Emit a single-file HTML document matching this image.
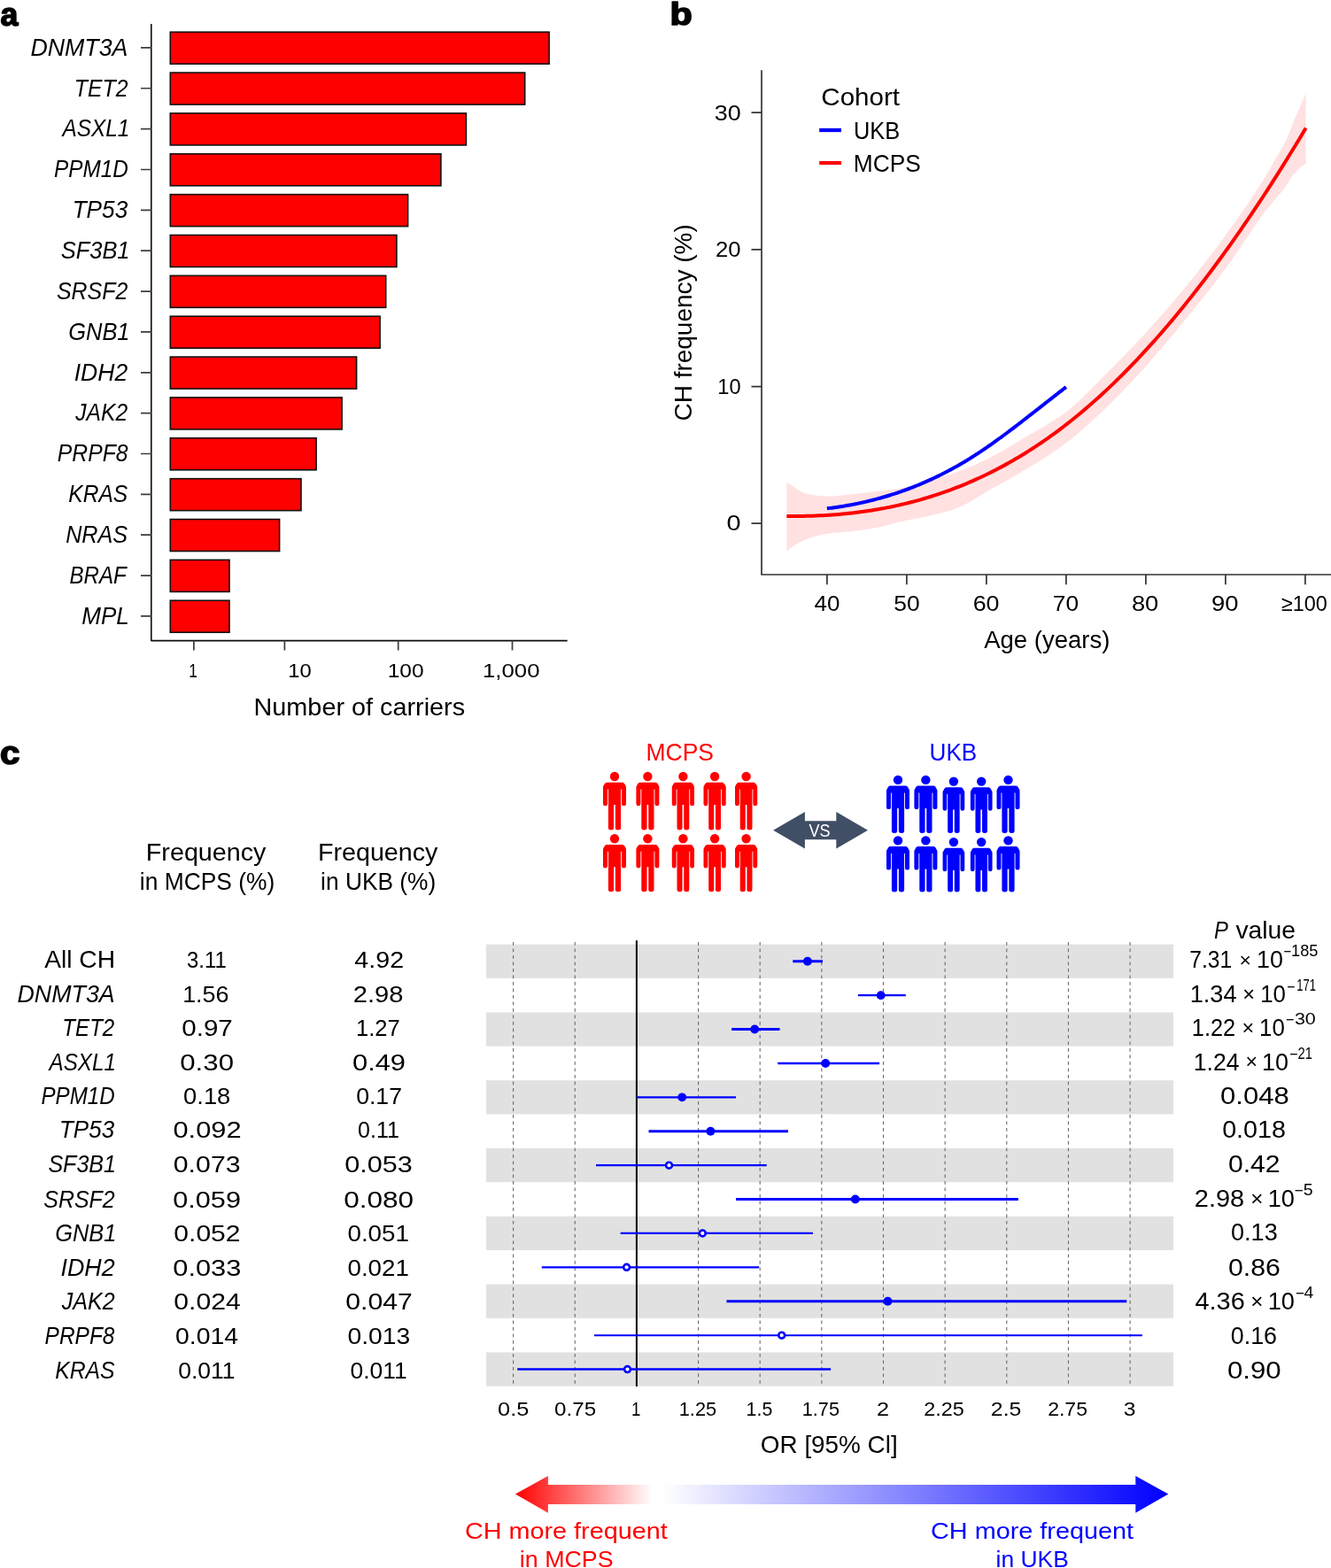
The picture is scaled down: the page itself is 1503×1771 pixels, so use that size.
<!DOCTYPE html>
<html><head><meta charset="utf-8"><title>Figure</title>
<style>
html,body{margin:0;padding:0;background:#fff;overflow:hidden;width:1503px;height:1771px;}
svg{display:block;}
text{font-family:"Liberation Sans",Arial,sans-serif;}
</style></head>
<body>
<svg width="1503" height="1771" viewBox="0 0 1503 1771">
<rect width="1503" height="1771" fill="#fff"/>
<text x="0.43" y="28.7" font-size="36.89" textLength="19.84" lengthAdjust="spacingAndGlyphs" font-weight="bold" fill="#000" stroke="#000" stroke-width="1.6" stroke-linejoin="round">a</text>
<text x="756.61" y="28.1" font-size="35.62" textLength="25.28" lengthAdjust="spacingAndGlyphs" font-weight="bold" fill="#000" stroke="#000" stroke-width="1.6" stroke-linejoin="round">b</text>
<text x="-0.01" y="862.8" font-size="36.53" textLength="22.36" lengthAdjust="spacingAndGlyphs" font-weight="bold" fill="#000" stroke="#000" stroke-width="1.6" stroke-linejoin="round">c</text>
<path d="M170.8 27 V723.6 H640.7" fill="none" stroke="#0d0d0d" stroke-width="1.6" stroke-linejoin="round"/>
<rect x="192.3" y="36.2" width="427.8" height="36" fill="#f00" stroke="#111" stroke-width="1.6"/>
<text x="34.4" y="62.75" font-size="27.64" textLength="110.05" lengthAdjust="spacingAndGlyphs" style="font-style:italic;" fill="#000" >DNMT3A</text>
<rect x="192.3" y="82.06" width="400.4" height="36" fill="#f00" stroke="#111" stroke-width="1.6"/>
<text x="83.87" y="108.61" font-size="27.64" textLength="60.7" lengthAdjust="spacingAndGlyphs" style="font-style:italic;" fill="#000" >TET2</text>
<rect x="192.3" y="127.92" width="334.1" height="36" fill="#f00" stroke="#111" stroke-width="1.6"/>
<text x="70.62" y="154.47" font-size="27.64" textLength="75.81" lengthAdjust="spacingAndGlyphs" style="font-style:italic;" fill="#000" >ASXL1</text>
<rect x="192.3" y="173.78" width="305.6" height="36" fill="#f00" stroke="#111" stroke-width="1.6"/>
<text x="60.97" y="200.33" font-size="27.64" textLength="83.83" lengthAdjust="spacingAndGlyphs" style="font-style:italic;" fill="#000" >PPM1D</text>
<rect x="192.3" y="219.64" width="268.3" height="36" fill="#f00" stroke="#111" stroke-width="1.6"/>
<text x="81.64" y="246.19" font-size="27.64" textLength="62.56" lengthAdjust="spacingAndGlyphs" style="font-style:italic;" fill="#000" >TP53</text>
<rect x="192.3" y="265.5" width="255.6" height="36" fill="#f00" stroke="#111" stroke-width="1.6"/>
<text x="68.7" y="292.05" font-size="27.64" textLength="77.86" lengthAdjust="spacingAndGlyphs" style="font-style:italic;" fill="#000" >SF3B1</text>
<rect x="192.3" y="311.36" width="243.4" height="36" fill="#f00" stroke="#111" stroke-width="1.6"/>
<text x="64.01" y="337.91" font-size="27.64" textLength="80.31" lengthAdjust="spacingAndGlyphs" style="font-style:italic;" fill="#000" >SRSF2</text>
<rect x="192.3" y="357.22" width="236.8" height="36" fill="#f00" stroke="#111" stroke-width="1.6"/>
<text x="77.23" y="383.77" font-size="27.64" textLength="69.29" lengthAdjust="spacingAndGlyphs" style="font-style:italic;" fill="#000" >GNB1</text>
<rect x="192.3" y="403.08" width="210.3" height="36" fill="#f00" stroke="#111" stroke-width="1.6"/>
<text x="83.74" y="429.63" font-size="27.64" textLength="60.52" lengthAdjust="spacingAndGlyphs" style="font-style:italic;" fill="#000" >IDH2</text>
<rect x="192.3" y="448.94" width="193.8" height="36" fill="#f00" stroke="#111" stroke-width="1.6"/>
<text x="85.26" y="475.49" font-size="27.64" textLength="58.95" lengthAdjust="spacingAndGlyphs" style="font-style:italic;" fill="#000" >JAK2</text>
<rect x="192.3" y="494.8" width="164.8" height="36" fill="#f00" stroke="#111" stroke-width="1.6"/>
<text x="64.86" y="521.35" font-size="27.64" textLength="79.68" lengthAdjust="spacingAndGlyphs" style="font-style:italic;" fill="#000" >PRPF8</text>
<rect x="192.3" y="540.66" width="147.7" height="36" fill="#f00" stroke="#111" stroke-width="1.6"/>
<text x="77.36" y="567.21" font-size="27.64" textLength="66.86" lengthAdjust="spacingAndGlyphs" style="font-style:italic;" fill="#000" >KRAS</text>
<rect x="192.3" y="586.52" width="123.3" height="36" fill="#f00" stroke="#111" stroke-width="1.6"/>
<text x="74.14" y="613.07" font-size="27.64" textLength="70.03" lengthAdjust="spacingAndGlyphs" style="font-style:italic;" fill="#000" >NRAS</text>
<rect x="192.3" y="632.38" width="66.7" height="36" fill="#f00" stroke="#111" stroke-width="1.6"/>
<text x="78.48" y="658.93" font-size="27.64" textLength="64.33" lengthAdjust="spacingAndGlyphs" style="font-style:italic;" fill="#000" >BRAF</text>
<rect x="192.3" y="678.24" width="66.7" height="36" fill="#f00" stroke="#111" stroke-width="1.6"/>
<text x="92.22" y="704.79" font-size="27.64" textLength="53.53" lengthAdjust="spacingAndGlyphs" style="font-style:italic;" fill="#000" >MPL</text>
<path d="M159 53.9 H170.8 M159 99.76 H170.8 M159 145.62 H170.8 M159 191.48 H170.8 M159 237.34 H170.8 M159 283.2 H170.8 M159 329.06 H170.8 M159 374.92 H170.8 M159 420.78 H170.8 M159 466.64 H170.8 M159 512.5 H170.8 M159 558.36 H170.8 M159 604.22 H170.8 M159 650.08 H170.8 M159 695.94 H170.8 M218.9 723.6 V734.5 M321.4 723.6 V734.5 M449.7 723.6 V734.5 M578.5 723.6 V734.5" fill="none" stroke="#3c3c3c" stroke-width="1.7"/>
<text x="213.2" y="765" font-size="22.9" textLength="9.64" lengthAdjust="spacingAndGlyphs" style="" fill="#000" >1</text>
<text x="325.22" y="765" font-size="22.9" textLength="26.43" lengthAdjust="spacingAndGlyphs" style="" fill="#000" >10</text>
<text x="437.66" y="765" font-size="22.9" textLength="40.88" lengthAdjust="spacingAndGlyphs" style="" fill="#000" >100</text>
<text x="545.07" y="765" font-size="22.9" textLength="64.4" lengthAdjust="spacingAndGlyphs" style="" fill="#000" >1,000</text>
<text x="286.52" y="808" font-size="27.64" textLength="238.59" lengthAdjust="spacingAndGlyphs" style="" fill="#000" >Number of carriers</text>
<path d="M860 79.3 V649 H1503" fill="none" stroke="#333" stroke-width="1.7" stroke-linejoin="round"/>
<path d="M848.5 591.2 H860 M848.5 436.54 H860 M848.5 281.88 H860 M848.5 127.22 H860 M933.9 649 V660.2 M1023.9 649 V660.2 M1113.9 649 V660.2 M1203.9 649 V660.2 M1293.9 649 V660.2 M1383.9 649 V660.2 M1473.9 649 V660.2" fill="none" stroke="#333" stroke-width="1.7"/>
<text x="806.69" y="136.1" font-size="23.32" textLength="29.98" lengthAdjust="spacingAndGlyphs" style="" fill="#000" >30</text>
<text x="808.01" y="289.6" font-size="23.32" textLength="28.61" lengthAdjust="spacingAndGlyphs" style="" fill="#000" >20</text>
<text x="810.23" y="445.2" font-size="23.32" textLength="26.32" lengthAdjust="spacingAndGlyphs" style="" fill="#000" >10</text>
<text x="820.64" y="599.1" font-size="23.32" textLength="16.07" lengthAdjust="spacingAndGlyphs" style="" fill="#000" >0</text>
<text x="919.52" y="690.3" font-size="24.03" textLength="28.81" lengthAdjust="spacingAndGlyphs" style="" fill="#000" >40</text>
<text x="1009.24" y="690.3" font-size="24.03" textLength="29.41" lengthAdjust="spacingAndGlyphs" style="" fill="#000" >50</text>
<text x="1098.66" y="690.3" font-size="24.03" textLength="29.92" lengthAdjust="spacingAndGlyphs" style="" fill="#000" >60</text>
<text x="1188.78" y="690.3" font-size="24.03" textLength="29.26" lengthAdjust="spacingAndGlyphs" style="" fill="#000" >70</text>
<text x="1277.94" y="690.3" font-size="24.03" textLength="30.35" lengthAdjust="spacingAndGlyphs" style="" fill="#000" >80</text>
<text x="1368.1" y="690.3" font-size="24.03" textLength="30.49" lengthAdjust="spacingAndGlyphs" style="" fill="#000" >90</text>
<text x="1446.84" y="690.3" font-size="24.03" textLength="51.89" lengthAdjust="spacingAndGlyphs" style="" fill="#000" >≥100</text>
<text x="1111.23" y="731.8" font-size="27.49" textLength="142.15" lengthAdjust="spacingAndGlyphs" style="" fill="#000" >Age (years)</text>
<text transform="translate(780.9 474.1) rotate(-90)" x="-1.4" y="0" font-size="27.49" textLength="222.26" lengthAdjust="spacingAndGlyphs" fill="#000">CH frequency (%)</text>
<text x="927.32" y="119" font-size="27.64" textLength="88.75" lengthAdjust="spacingAndGlyphs" style="" fill="#000" >Cohort</text>
<text x="964.03" y="157" font-size="28.07" textLength="52.16" lengthAdjust="spacingAndGlyphs" style="" fill="#000" >UKB</text>
<text x="963.83" y="193.8" font-size="27.64" textLength="76.03" lengthAdjust="spacingAndGlyphs" style="" fill="#000" >MCPS</text>
<path d="M925.2 147 H950" stroke="#00f" stroke-width="4.3"/>
<path d="M925.2 184 H950" stroke="#f00" stroke-width="4.1"/>
<path d="M888.36 544.65 L892.05 547.01 L895.73 549.37 L899.42 551.91 L903.11 554.32 L906.8 556.19 L910.48 557.38 L914.17 558.34 L917.86 559.1 L921.54 559.62 L925.23 559.99 L928.92 560.3 L932.61 560.51 L936.29 560.58 L939.98 560.47 L943.67 560.22 L947.35 559.87 L951.04 559.45 L954.73 559 L958.42 558.54 L962.1 558.11 L965.79 557.72 L969.48 557.34 L973.16 556.95 L976.85 556.55 L980.54 556.14 L984.23 555.72 L987.91 555.29 L991.6 554.84 L995.29 554.39 L998.98 553.95 L1002.66 553.49 L1006.35 553.02 L1010.04 552.51 L1013.72 551.96 L1017.41 551.35 L1021.1 550.66 L1024.79 549.83 L1028.47 548.88 L1032.16 547.83 L1035.85 546.73 L1039.53 545.6 L1043.22 544.46 L1046.91 543.37 L1050.6 542.31 L1054.28 541.24 L1057.97 540.17 L1061.66 539.08 L1065.34 537.97 L1069.03 536.85 L1072.72 535.7 L1076.41 534.51 L1080.09 533.31 L1083.78 532.07 L1087.47 530.76 L1091.15 529.35 L1094.84 527.84 L1098.53 526.25 L1102.22 524.59 L1105.9 522.87 L1109.59 521.1 L1113.28 519.28 L1116.96 517.42 L1120.65 515.5 L1124.34 513.51 L1128.03 511.47 L1131.71 509.39 L1135.4 507.27 L1139.09 505.12 L1142.77 502.94 L1146.46 500.75 L1150.15 498.54 L1153.84 496.33 L1157.52 494.12 L1161.21 491.93 L1164.9 489.77 L1168.58 487.63 L1172.27 485.49 L1175.96 483.34 L1179.65 481.16 L1183.33 478.95 L1187.02 476.68 L1190.71 474.34 L1194.4 471.91 L1198.08 469.38 L1201.77 466.74 L1205.46 463.96 L1209.14 460.99 L1212.83 457.84 L1216.52 454.53 L1220.21 451.08 L1223.89 447.53 L1227.58 443.89 L1231.27 440.18 L1234.95 436.44 L1238.64 432.68 L1242.33 428.92 L1246.02 425.19 L1249.7 421.51 L1253.39 417.85 L1257.08 414.15 L1260.76 410.44 L1264.45 406.7 L1268.14 402.94 L1271.83 399.15 L1275.51 395.33 L1279.2 391.47 L1282.89 387.59 L1286.57 383.66 L1290.26 379.7 L1293.95 375.71 L1297.64 371.67 L1301.32 367.6 L1305.01 363.49 L1308.7 359.35 L1312.38 355.18 L1316.07 350.96 L1319.76 346.7 L1323.45 342.41 L1327.13 338.07 L1330.82 333.69 L1334.51 329.27 L1338.19 324.81 L1341.88 320.3 L1345.57 315.75 L1349.26 311.15 L1352.94 306.51 L1356.63 301.82 L1360.32 297.08 L1364 292.3 L1367.69 287.47 L1371.38 282.59 L1375.07 277.66 L1378.75 272.68 L1382.44 267.65 L1386.13 262.57 L1389.82 257.46 L1393.5 252.32 L1397.19 247.13 L1400.88 241.9 L1404.56 236.6 L1408.25 231.23 L1411.94 225.78 L1415.63 220.25 L1419.31 214.61 L1423 208.87 L1426.69 203.02 L1430.37 197.01 L1434.06 190.64 L1437.75 184.06 L1441.44 177.57 L1445.12 171.37 L1448.81 165.04 L1452.5 158.04 L1456.18 149.56 L1459.87 139.91 L1463.56 130.87 L1467.25 122.15 L1470.93 113.83 L1474.62 105.88 L1474.62 184.91 L1470.93 187.28 L1467.25 190.17 L1463.56 193.52 L1459.87 197.69 L1456.18 203.57 L1452.5 209.68 L1448.81 214.69 L1445.12 219.28 L1441.44 223.62 L1437.75 227.86 L1434.06 232.16 L1430.37 236.68 L1426.69 241.51 L1423 246.56 L1419.31 251.76 L1415.63 257.09 L1411.94 262.51 L1408.25 267.99 L1404.56 273.5 L1400.88 279.01 L1397.19 284.47 L1393.5 289.87 L1389.82 295.17 L1386.13 300.34 L1382.44 305.34 L1378.75 310.27 L1375.07 315.13 L1371.38 319.94 L1367.69 324.69 L1364 329.4 L1360.32 334.07 L1356.63 338.7 L1352.94 343.3 L1349.26 347.87 L1345.57 352.42 L1341.88 356.95 L1338.19 361.46 L1334.51 365.97 L1330.82 370.45 L1327.13 374.92 L1323.45 379.36 L1319.76 383.78 L1316.07 388.17 L1312.38 392.52 L1308.7 396.83 L1305.01 401.09 L1301.32 405.31 L1297.64 409.48 L1293.95 413.6 L1290.26 417.67 L1286.57 421.72 L1282.89 425.73 L1279.2 429.72 L1275.51 433.66 L1271.83 437.57 L1268.14 441.43 L1264.45 445.24 L1260.76 448.99 L1257.08 452.69 L1253.39 456.33 L1249.7 459.9 L1246.02 463.42 L1242.33 466.91 L1238.64 470.38 L1234.95 473.81 L1231.27 477.2 L1227.58 480.54 L1223.89 483.82 L1220.21 487.03 L1216.52 490.17 L1212.83 493.23 L1209.14 496.2 L1205.46 499.08 L1201.77 501.85 L1198.08 504.55 L1194.4 507.17 L1190.71 509.72 L1187.02 512.21 L1183.33 514.65 L1179.65 517.04 L1175.96 519.39 L1172.27 521.71 L1168.58 524 L1164.9 526.28 L1161.21 528.54 L1157.52 530.79 L1153.84 533 L1150.15 535.17 L1146.46 537.3 L1142.77 539.4 L1139.09 541.48 L1135.4 543.54 L1131.71 545.59 L1128.03 547.64 L1124.34 549.7 L1120.65 551.77 L1116.96 553.87 L1113.28 555.99 L1109.59 558.19 L1105.9 560.46 L1102.22 562.73 L1098.53 564.96 L1094.84 567.09 L1091.15 569.08 L1087.47 570.89 L1083.78 572.62 L1080.09 574.22 L1076.41 575.63 L1072.72 576.83 L1069.03 577.93 L1065.34 578.93 L1061.66 579.87 L1057.97 580.75 L1054.28 581.6 L1050.6 582.42 L1046.91 583.24 L1043.22 584.03 L1039.53 584.77 L1035.85 585.48 L1032.16 586.17 L1028.47 586.87 L1024.79 587.59 L1021.1 588.36 L1017.41 589.18 L1013.72 590.1 L1010.04 591.08 L1006.35 592.08 L1002.66 593.08 L998.98 594.03 L995.29 594.9 L991.6 595.67 L987.91 596.34 L984.23 596.96 L980.54 597.56 L976.85 598.11 L973.16 598.63 L969.48 599.13 L965.79 599.59 L962.1 600.03 L958.42 600.42 L954.73 600.75 L951.04 601.07 L947.35 601.39 L943.67 601.72 L939.98 602.11 L936.29 602.56 L932.61 603.12 L928.92 603.8 L925.23 604.6 L921.54 605.51 L917.86 606.57 L914.17 607.83 L910.48 609.26 L906.8 610.81 L903.11 612.54 L899.42 614.5 L895.73 616.74 L892.05 619.44 L888.36 622.91 Z" fill="#ffe1e1"/>
<path d="M888.36 582.94 L892.05 582.98 L895.73 582.99 L899.42 582.98 L903.11 582.96 L906.8 582.91 L910.48 582.84 L914.17 582.75 L917.86 582.63 L921.54 582.5 L925.23 582.34 L928.92 582.16 L932.61 581.95 L936.29 581.72 L939.98 581.47 L943.67 581.19 L947.35 580.89 L951.04 580.56 L954.73 580.21 L958.42 579.83 L962.1 579.43 L965.79 579 L969.48 578.54 L973.16 578.05 L976.85 577.54 L980.54 577 L984.23 576.43 L987.91 575.84 L991.6 575.21 L995.29 574.56 L998.98 573.87 L1002.66 573.16 L1006.35 572.42 L1010.04 571.64 L1013.72 570.84 L1017.41 570 L1021.1 569.14 L1024.79 568.24 L1028.47 567.31 L1032.16 566.34 L1035.85 565.35 L1039.53 564.32 L1043.22 563.26 L1046.91 562.16 L1050.6 561.03 L1054.28 559.86 L1057.97 558.66 L1061.66 557.43 L1065.34 556.16 L1069.03 554.86 L1072.72 553.51 L1076.41 552.14 L1080.09 550.72 L1083.78 549.27 L1087.47 547.78 L1091.15 546.25 L1094.84 544.69 L1098.53 543.09 L1102.22 541.44 L1105.9 539.76 L1109.59 538.04 L1113.28 536.28 L1116.96 534.48 L1120.65 532.64 L1124.34 530.76 L1128.03 528.84 L1131.71 526.88 L1135.4 524.87 L1139.09 522.82 L1142.77 520.73 L1146.46 518.6 L1150.15 516.43 L1153.84 514.21 L1157.52 511.94 L1161.21 509.64 L1164.9 507.29 L1168.58 504.89 L1172.27 502.45 L1175.96 499.97 L1179.65 497.43 L1183.33 494.86 L1187.02 492.23 L1190.71 489.56 L1194.4 486.84 L1198.08 484.08 L1201.77 481.27 L1205.46 478.41 L1209.14 475.5 L1212.83 472.54 L1216.52 469.54 L1220.21 466.48 L1223.89 463.38 L1227.58 460.23 L1231.27 457.04 L1234.95 453.79 L1238.64 450.5 L1242.33 447.16 L1246.02 443.78 L1249.7 440.34 L1253.39 436.86 L1257.08 433.34 L1260.76 429.76 L1264.45 426.14 L1268.14 422.47 L1271.83 418.76 L1275.51 414.99 L1279.2 411.18 L1282.89 407.33 L1286.57 403.43 L1290.26 399.48 L1293.95 395.48 L1297.64 391.44 L1301.32 387.36 L1305.01 383.22 L1308.7 379.04 L1312.38 374.82 L1316.07 370.55 L1319.76 366.23 L1323.45 361.87 L1327.13 357.46 L1330.82 353.01 L1334.51 348.51 L1338.19 343.96 L1341.88 339.37 L1345.57 334.74 L1349.26 330.06 L1352.94 325.33 L1356.63 320.56 L1360.32 315.75 L1364 310.89 L1367.69 305.98 L1371.38 301.03 L1375.07 296.04 L1378.75 291 L1382.44 285.92 L1386.13 280.79 L1389.82 275.62 L1393.5 270.4 L1397.19 265.14 L1400.88 259.84 L1404.56 254.49 L1408.25 249.1 L1411.94 243.66 L1415.63 238.18 L1419.31 232.66 L1423 227.1 L1426.69 221.49 L1430.37 215.83 L1434.06 210.14 L1437.75 204.4 L1441.44 198.61 L1445.12 192.79 L1448.81 186.92 L1452.5 181.01 L1456.18 175.05 L1459.87 169.05 L1463.56 163.01 L1467.25 156.93 L1470.93 150.81 L1474.62 144.64" fill="none" stroke="#f00" stroke-width="4"/>
<path d="M933.9 574.3 L935.6 574.1 L937.3 573.89 L938.99 573.67 L940.69 573.44 L942.39 573.21 L944.09 572.97 L945.79 572.72 L947.48 572.47 L949.18 572.2 L950.88 571.94 L952.58 571.66 L954.28 571.38 L955.98 571.08 L957.67 570.79 L959.37 570.48 L961.07 570.17 L962.77 569.85 L964.47 569.52 L966.16 569.18 L967.86 568.84 L969.56 568.49 L971.26 568.13 L972.96 567.76 L974.65 567.38 L976.35 567 L978.05 566.61 L979.75 566.21 L981.45 565.8 L983.15 565.39 L984.84 564.97 L986.54 564.53 L988.24 564.09 L989.94 563.65 L991.64 563.19 L993.33 562.73 L995.03 562.25 L996.73 561.77 L998.43 561.28 L1000.13 560.78 L1001.82 560.28 L1003.52 559.76 L1005.22 559.24 L1006.92 558.7 L1008.62 558.16 L1010.32 557.61 L1012.01 557.05 L1013.71 556.48 L1015.41 555.9 L1017.11 555.32 L1018.81 554.72 L1020.5 554.12 L1022.2 553.5 L1023.9 552.88 L1025.6 552.25 L1027.3 551.61 L1028.99 550.96 L1030.69 550.3 L1032.39 549.63 L1034.09 548.95 L1035.79 548.26 L1037.48 547.56 L1039.18 546.85 L1040.88 546.14 L1042.58 545.41 L1044.28 544.67 L1045.98 543.93 L1047.67 543.17 L1049.37 542.4 L1051.07 541.63 L1052.77 540.84 L1054.47 540.05 L1056.16 539.24 L1057.86 538.42 L1059.56 537.6 L1061.26 536.76 L1062.96 535.92 L1064.65 535.06 L1066.35 534.19 L1068.05 533.31 L1069.75 532.43 L1071.45 531.53 L1073.15 530.62 L1074.84 529.7 L1076.54 528.77 L1078.24 527.83 L1079.94 526.88 L1081.64 525.92 L1083.33 524.95 L1085.03 523.96 L1086.73 522.97 L1088.43 521.96 L1090.13 520.95 L1091.82 519.92 L1093.52 518.88 L1095.22 517.83 L1096.92 516.77 L1098.62 515.7 L1100.32 514.62 L1102.01 513.53 L1103.71 512.42 L1105.41 511.31 L1107.11 510.19 L1108.81 509.05 L1110.5 507.91 L1112.2 506.75 L1113.9 505.59 L1115.6 504.42 L1117.3 503.24 L1118.99 502.05 L1120.69 500.85 L1122.39 499.65 L1124.09 498.43 L1125.79 497.21 L1127.48 495.98 L1129.18 494.75 L1130.88 493.51 L1132.58 492.26 L1134.28 491 L1135.98 489.74 L1137.67 488.48 L1139.37 487.2 L1141.07 485.93 L1142.77 484.64 L1144.47 483.36 L1146.16 482.06 L1147.86 480.77 L1149.56 479.47 L1151.26 478.16 L1152.96 476.85 L1154.65 475.54 L1156.35 474.23 L1158.05 472.91 L1159.75 471.59 L1161.45 470.27 L1163.15 468.94 L1164.84 467.62 L1166.54 466.29 L1168.24 464.96 L1169.94 463.63 L1171.64 462.3 L1173.33 460.96 L1175.03 459.63 L1176.73 458.3 L1178.43 456.96 L1180.13 455.63 L1181.82 454.3 L1183.52 452.97 L1185.22 451.64 L1186.92 450.31 L1188.62 448.98 L1190.32 447.66 L1192.01 446.33 L1193.71 445.01 L1195.41 443.69 L1197.11 442.37 L1198.81 441.06 L1200.5 439.75 L1202.2 438.44 L1203.9 437.14" fill="none" stroke="#00f" stroke-width="4"/>
<text x="729.52" y="858.5" font-size="27.05" textLength="76.45" lengthAdjust="spacingAndGlyphs" style="" fill="#f00" >MCPS</text>
<text x="1049.58" y="858.5" font-size="27.05" textLength="53.66" lengthAdjust="spacingAndGlyphs" style="" fill="#00f" >UKB</text>
<circle cx="694" cy="877" r="5.2" fill="#f00"/><path d="M685.6 883.7 H702.4 C703.6 883.7 704.6 884.3 705.4 885.6 L707 888.6 Q707 889.2 707 890 V908 Q707 910.2 704.5 910.2 Q702 910.2 702 908 V891.5 H701.1 V935 Q701.1 937.5 697.98 937.5 Q694.85 937.5 694.85 935 V909 H693.15 V935 Q693.15 937.5 690.02 937.5 Q686.9 937.5 686.9 935 V891.5 H686 V908 Q686 910.2 683.5 910.2 Q681 910.2 681 908 V890 Q681 889.2 681 888.6 L682.6 885.6 C683.4 884.3 684.4 883.7 685.6 883.7 Z" fill="#f00"/>
<circle cx="694" cy="947.2" r="5.2" fill="#f00"/><path d="M685.6 953.9 H702.4 C703.6 953.9 704.6 954.5 705.4 955.8 L707 958.8 Q707 959.4 707 960.2 V978.2 Q707 980.4 704.5 980.4 Q702 980.4 702 978.2 V961.7 H701.1 V1004.8 Q701.1 1007.3 697.98 1007.3 Q694.85 1007.3 694.85 1004.8 V979.2 H693.15 V1004.8 Q693.15 1007.3 690.02 1007.3 Q686.9 1007.3 686.9 1004.8 V961.7 H686 V978.2 Q686 980.4 683.5 980.4 Q681 980.4 681 978.2 V960.2 Q681 959.4 681 958.8 L682.6 955.8 C683.4 954.5 684.4 953.9 685.6 953.9 Z" fill="#f00"/>
<circle cx="731.4" cy="877" r="5.2" fill="#f00"/><path d="M723 883.7 H739.8 C741 883.7 742 884.3 742.8 885.6 L744.4 888.6 Q744.4 889.2 744.4 890 V908 Q744.4 910.2 741.9 910.2 Q739.4 910.2 739.4 908 V891.5 H738.5 V935 Q738.5 937.5 735.38 937.5 Q732.25 937.5 732.25 935 V909 H730.55 V935 Q730.55 937.5 727.42 937.5 Q724.3 937.5 724.3 935 V891.5 H723.4 V908 Q723.4 910.2 720.9 910.2 Q718.4 910.2 718.4 908 V890 Q718.4 889.2 718.4 888.6 L720 885.6 C720.8 884.3 721.8 883.7 723 883.7 Z" fill="#f00"/>
<circle cx="731.4" cy="947.2" r="5.2" fill="#f00"/><path d="M723 953.9 H739.8 C741 953.9 742 954.5 742.8 955.8 L744.4 958.8 Q744.4 959.4 744.4 960.2 V978.2 Q744.4 980.4 741.9 980.4 Q739.4 980.4 739.4 978.2 V961.7 H738.5 V1004.8 Q738.5 1007.3 735.38 1007.3 Q732.25 1007.3 732.25 1004.8 V979.2 H730.55 V1004.8 Q730.55 1007.3 727.42 1007.3 Q724.3 1007.3 724.3 1004.8 V961.7 H723.4 V978.2 Q723.4 980.4 720.9 980.4 Q718.4 980.4 718.4 978.2 V960.2 Q718.4 959.4 718.4 958.8 L720 955.8 C720.8 954.5 721.8 953.9 723 953.9 Z" fill="#f00"/>
<circle cx="771.4" cy="877" r="5.2" fill="#f00"/><path d="M763.39 883.7 H779.41 C780.61 883.7 781.61 884.3 782.41 885.6 L784.01 888.6 Q784.01 889.2 784.01 890 V908 Q784.01 910.2 781.58 910.2 Q779.16 910.2 779.16 908 V891.5 H778.29 V935 Q778.29 937.5 775.27 937.5 Q772.25 937.5 772.25 935 V909 H770.55 V935 Q770.55 937.5 767.53 937.5 Q764.51 937.5 764.51 935 V891.5 H763.64 V908 Q763.64 910.2 761.22 910.2 Q758.79 910.2 758.79 908 V890 Q758.79 889.2 758.79 888.6 L760.39 885.6 C761.19 884.3 762.19 883.7 763.39 883.7 Z" fill="#f00"/>
<circle cx="771.4" cy="947.2" r="5.2" fill="#f00"/><path d="M763.39 953.9 H779.41 C780.61 953.9 781.61 954.5 782.41 955.8 L784.01 958.8 Q784.01 959.4 784.01 960.2 V978.2 Q784.01 980.4 781.58 980.4 Q779.16 980.4 779.16 978.2 V961.7 H778.29 V1004.8 Q778.29 1007.3 775.27 1007.3 Q772.25 1007.3 772.25 1004.8 V979.2 H770.55 V1004.8 Q770.55 1007.3 767.53 1007.3 Q764.51 1007.3 764.51 1004.8 V961.7 H763.64 V978.2 Q763.64 980.4 761.22 980.4 Q758.79 980.4 758.79 978.2 V960.2 Q758.79 959.4 758.79 958.8 L760.39 955.8 C761.19 954.5 762.19 953.9 763.39 953.9 Z" fill="#f00"/>
<circle cx="807.1" cy="877" r="5.2" fill="#f00"/><path d="M799.09 883.7 H815.11 C816.31 883.7 817.31 884.3 818.11 885.6 L819.71 888.6 Q819.71 889.2 819.71 890 V908 Q819.71 910.2 817.28 910.2 Q814.86 910.2 814.86 908 V891.5 H813.99 V935 Q813.99 937.5 810.97 937.5 Q807.95 937.5 807.95 935 V909 H806.25 V935 Q806.25 937.5 803.23 937.5 Q800.21 937.5 800.21 935 V891.5 H799.34 V908 Q799.34 910.2 796.92 910.2 Q794.49 910.2 794.49 908 V890 Q794.49 889.2 794.49 888.6 L796.09 885.6 C796.89 884.3 797.89 883.7 799.09 883.7 Z" fill="#f00"/>
<circle cx="807.1" cy="947.2" r="5.2" fill="#f00"/><path d="M799.09 953.9 H815.11 C816.31 953.9 817.31 954.5 818.11 955.8 L819.71 958.8 Q819.71 959.4 819.71 960.2 V978.2 Q819.71 980.4 817.28 980.4 Q814.86 980.4 814.86 978.2 V961.7 H813.99 V1004.8 Q813.99 1007.3 810.97 1007.3 Q807.95 1007.3 807.95 1004.8 V979.2 H806.25 V1004.8 Q806.25 1007.3 803.23 1007.3 Q800.21 1007.3 800.21 1004.8 V961.7 H799.34 V978.2 Q799.34 980.4 796.92 980.4 Q794.49 980.4 794.49 978.2 V960.2 Q794.49 959.4 794.49 958.8 L796.09 955.8 C796.89 954.5 797.89 953.9 799.09 953.9 Z" fill="#f00"/>
<circle cx="842.6" cy="877" r="5.2" fill="#f00"/><path d="M834.59 883.7 H850.61 C851.81 883.7 852.81 884.3 853.61 885.6 L855.21 888.6 Q855.21 889.2 855.21 890 V908 Q855.21 910.2 852.78 910.2 Q850.36 910.2 850.36 908 V891.5 H849.49 V935 Q849.49 937.5 846.47 937.5 Q843.45 937.5 843.45 935 V909 H841.75 V935 Q841.75 937.5 838.73 937.5 Q835.71 937.5 835.71 935 V891.5 H834.84 V908 Q834.84 910.2 832.42 910.2 Q829.99 910.2 829.99 908 V890 Q829.99 889.2 829.99 888.6 L831.59 885.6 C832.39 884.3 833.39 883.7 834.59 883.7 Z" fill="#f00"/>
<circle cx="842.6" cy="947.2" r="5.2" fill="#f00"/><path d="M834.59 953.9 H850.61 C851.81 953.9 852.81 954.5 853.61 955.8 L855.21 958.8 Q855.21 959.4 855.21 960.2 V978.2 Q855.21 980.4 852.78 980.4 Q850.36 980.4 850.36 978.2 V961.7 H849.49 V1004.8 Q849.49 1007.3 846.47 1007.3 Q843.45 1007.3 843.45 1004.8 V979.2 H841.75 V1004.8 Q841.75 1007.3 838.73 1007.3 Q835.71 1007.3 835.71 1004.8 V961.7 H834.84 V978.2 Q834.84 980.4 832.42 980.4 Q829.99 980.4 829.99 978.2 V960.2 Q829.99 959.4 829.99 958.8 L831.59 955.8 C832.39 954.5 833.39 953.9 834.59 953.9 Z" fill="#f00"/>
<circle cx="1014" cy="880.9" r="5.2" fill="#00f"/><path d="M1005.6 887.6 H1022.4 C1023.6 887.6 1024.6 888.2 1025.4 889.5 L1027 892.5 Q1027 893.1 1027 893.9 V911.9 Q1027 914.1 1024.5 914.1 Q1022 914.1 1022 911.9 V895.4 H1021.1 V938.4 Q1021.1 940.9 1017.98 940.9 Q1014.85 940.9 1014.85 938.4 V912.9 H1013.15 V938.4 Q1013.15 940.9 1010.02 940.9 Q1006.9 940.9 1006.9 938.4 V895.4 H1006 V911.9 Q1006 914.1 1003.5 914.1 Q1001 914.1 1001 911.9 V893.9 Q1001 893.1 1001 892.5 L1002.6 889.5 C1003.4 888.2 1004.4 887.6 1005.6 887.6 Z" fill="#00f"/>
<circle cx="1014" cy="949.4" r="5.2" fill="#00f"/><path d="M1005.6 956.1 H1022.4 C1023.6 956.1 1024.6 956.7 1025.4 958 L1027 961 Q1027 961.6 1027 962.4 V980.4 Q1027 982.6 1024.5 982.6 Q1022 982.6 1022 980.4 V963.9 H1021.1 V1005.1 Q1021.1 1007.6 1017.98 1007.6 Q1014.85 1007.6 1014.85 1005.1 V981.4 H1013.15 V1005.1 Q1013.15 1007.6 1010.02 1007.6 Q1006.9 1007.6 1006.9 1005.1 V963.9 H1006 V980.4 Q1006 982.6 1003.5 982.6 Q1001 982.6 1001 980.4 V962.4 Q1001 961.6 1001 961 L1002.6 958 C1003.4 956.7 1004.4 956.1 1005.6 956.1 Z" fill="#00f"/>
<circle cx="1045.4" cy="880.9" r="5.2" fill="#00f"/><path d="M1037 887.6 H1053.8 C1055 887.6 1056 888.2 1056.8 889.5 L1058.4 892.5 Q1058.4 893.1 1058.4 893.9 V911.9 Q1058.4 914.1 1055.9 914.1 Q1053.4 914.1 1053.4 911.9 V895.4 H1052.5 V938.4 Q1052.5 940.9 1049.38 940.9 Q1046.25 940.9 1046.25 938.4 V912.9 H1044.55 V938.4 Q1044.55 940.9 1041.43 940.9 Q1038.3 940.9 1038.3 938.4 V895.4 H1037.4 V911.9 Q1037.4 914.1 1034.9 914.1 Q1032.4 914.1 1032.4 911.9 V893.9 Q1032.4 893.1 1032.4 892.5 L1034 889.5 C1034.8 888.2 1035.8 887.6 1037 887.6 Z" fill="#00f"/>
<circle cx="1045.4" cy="949.4" r="5.2" fill="#00f"/><path d="M1037 956.1 H1053.8 C1055 956.1 1056 956.7 1056.8 958 L1058.4 961 Q1058.4 961.6 1058.4 962.4 V980.4 Q1058.4 982.6 1055.9 982.6 Q1053.4 982.6 1053.4 980.4 V963.9 H1052.5 V1005.1 Q1052.5 1007.6 1049.38 1007.6 Q1046.25 1007.6 1046.25 1005.1 V981.4 H1044.55 V1005.1 Q1044.55 1007.6 1041.43 1007.6 Q1038.3 1007.6 1038.3 1005.1 V963.9 H1037.4 V980.4 Q1037.4 982.6 1034.9 982.6 Q1032.4 982.6 1032.4 980.4 V962.4 Q1032.4 961.6 1032.4 961 L1034 958 C1034.8 956.7 1035.8 956.1 1037 956.1 Z" fill="#00f"/>
<circle cx="1076.9" cy="882.6" r="5.2" fill="#00f"/><path d="M1069.15 889.3 H1084.65 C1085.85 889.3 1086.85 889.9 1087.65 891.2 L1089.25 894.2 Q1089.25 894.8 1089.25 895.6 V913.6 Q1089.25 915.8 1086.88 915.8 Q1084.5 915.8 1084.5 913.6 V897.1 H1083.64 V938.4 Q1083.64 940.9 1080.7 940.9 Q1077.75 940.9 1077.75 938.4 V914.6 H1076.05 V938.4 Q1076.05 940.9 1073.1 940.9 Q1070.16 940.9 1070.16 938.4 V897.1 H1069.3 V913.6 Q1069.3 915.8 1066.93 915.8 Q1064.55 915.8 1064.55 913.6 V895.6 Q1064.55 894.8 1064.55 894.2 L1066.15 891.2 C1066.95 889.9 1067.95 889.3 1069.15 889.3 Z" fill="#00f"/>
<circle cx="1076.9" cy="951.1" r="5.2" fill="#00f"/><path d="M1069.15 957.8 H1084.65 C1085.85 957.8 1086.85 958.4 1087.65 959.7 L1089.25 962.7 Q1089.25 963.3 1089.25 964.1 V982.1 Q1089.25 984.3 1086.88 984.3 Q1084.5 984.3 1084.5 982.1 V965.6 H1083.64 V1005.1 Q1083.64 1007.6 1080.7 1007.6 Q1077.75 1007.6 1077.75 1005.1 V983.1 H1076.05 V1005.1 Q1076.05 1007.6 1073.1 1007.6 Q1070.16 1007.6 1070.16 1005.1 V965.6 H1069.3 V982.1 Q1069.3 984.3 1066.93 984.3 Q1064.55 984.3 1064.55 982.1 V964.1 Q1064.55 963.3 1064.55 962.7 L1066.15 959.7 C1066.95 958.4 1067.95 957.8 1069.15 957.8 Z" fill="#00f"/>
<circle cx="1108.2" cy="882.6" r="5.2" fill="#00f"/><path d="M1100.45 889.3 H1115.95 C1117.15 889.3 1118.15 889.9 1118.95 891.2 L1120.55 894.2 Q1120.55 894.8 1120.55 895.6 V913.6 Q1120.55 915.8 1118.17 915.8 Q1115.8 915.8 1115.8 913.6 V897.1 H1114.94 V938.4 Q1114.94 940.9 1112 940.9 Q1109.05 940.9 1109.05 938.4 V914.6 H1107.35 V938.4 Q1107.35 940.9 1104.4 940.9 Q1101.46 940.9 1101.46 938.4 V897.1 H1100.6 V913.6 Q1100.6 915.8 1098.23 915.8 Q1095.85 915.8 1095.85 913.6 V895.6 Q1095.85 894.8 1095.85 894.2 L1097.45 891.2 C1098.25 889.9 1099.25 889.3 1100.45 889.3 Z" fill="#00f"/>
<circle cx="1108.2" cy="951.1" r="5.2" fill="#00f"/><path d="M1100.45 957.8 H1115.95 C1117.15 957.8 1118.15 958.4 1118.95 959.7 L1120.55 962.7 Q1120.55 963.3 1120.55 964.1 V982.1 Q1120.55 984.3 1118.17 984.3 Q1115.8 984.3 1115.8 982.1 V965.6 H1114.94 V1005.1 Q1114.94 1007.6 1112 1007.6 Q1109.05 1007.6 1109.05 1005.1 V983.1 H1107.35 V1005.1 Q1107.35 1007.6 1104.4 1007.6 Q1101.46 1007.6 1101.46 1005.1 V965.6 H1100.6 V982.1 Q1100.6 984.3 1098.23 984.3 Q1095.85 984.3 1095.85 982.1 V964.1 Q1095.85 963.3 1095.85 962.7 L1097.45 959.7 C1098.25 958.4 1099.25 957.8 1100.45 957.8 Z" fill="#00f"/>
<circle cx="1138.5" cy="880.9" r="5.2" fill="#00f"/><path d="M1130.1 887.6 H1146.9 C1148.1 887.6 1149.1 888.2 1149.9 889.5 L1151.5 892.5 Q1151.5 893.1 1151.5 893.9 V911.9 Q1151.5 914.1 1149 914.1 Q1146.5 914.1 1146.5 911.9 V895.4 H1145.6 V938.4 Q1145.6 940.9 1142.47 940.9 Q1139.35 940.9 1139.35 938.4 V912.9 H1137.65 V938.4 Q1137.65 940.9 1134.53 940.9 Q1131.4 940.9 1131.4 938.4 V895.4 H1130.5 V911.9 Q1130.5 914.1 1128 914.1 Q1125.5 914.1 1125.5 911.9 V893.9 Q1125.5 893.1 1125.5 892.5 L1127.1 889.5 C1127.9 888.2 1128.9 887.6 1130.1 887.6 Z" fill="#00f"/>
<circle cx="1138.5" cy="949.4" r="5.2" fill="#00f"/><path d="M1130.1 956.1 H1146.9 C1148.1 956.1 1149.1 956.7 1149.9 958 L1151.5 961 Q1151.5 961.6 1151.5 962.4 V980.4 Q1151.5 982.6 1149 982.6 Q1146.5 982.6 1146.5 980.4 V963.9 H1145.6 V1005.1 Q1145.6 1007.6 1142.47 1007.6 Q1139.35 1007.6 1139.35 1005.1 V981.4 H1137.65 V1005.1 Q1137.65 1007.6 1134.53 1007.6 Q1131.4 1007.6 1131.4 1005.1 V963.9 H1130.5 V980.4 Q1130.5 982.6 1128 982.6 Q1125.5 982.6 1125.5 980.4 V962.4 Q1125.5 961.6 1125.5 961 L1127.1 958 C1127.9 956.7 1128.9 956.1 1130.1 956.1 Z" fill="#00f"/>
<polygon points="873.1,937.7 908.9,917.1 908.9,927.3 944.3,927.3 944.3,917.1 980,937.7 944.3,958.6 944.3,948.2 908.9,948.2 908.9,958.6" fill="#404e66"/>
<text x="913.51" y="945" font-size="19.78" textLength="24.08" lengthAdjust="spacingAndGlyphs" style="" fill="#fff" >VS</text>
<text x="164.83" y="971.9" font-size="27.35" textLength="135.63" lengthAdjust="spacingAndGlyphs" style="" fill="#000" >Frequency</text>
<text x="157.82" y="1004.7" font-size="27.35" textLength="152.39" lengthAdjust="spacingAndGlyphs" style="" fill="#000" >in MCPS (%)</text>
<text x="358.93" y="971.9" font-size="27.35" textLength="135.53" lengthAdjust="spacingAndGlyphs" style="" fill="#000" >Frequency</text>
<text x="362.12" y="1004.7" font-size="27.35" textLength="130.06" lengthAdjust="spacingAndGlyphs" style="" fill="#000" >in UKB (%)</text>
<text x="1370.99" y="1059.8" font-size="28.07" textLength="15.88" lengthAdjust="spacingAndGlyphs" style="font-style:italic;" fill="#000" >P</text>
<text x="1395.43" y="1059.8" font-size="28.07" textLength="67.59" lengthAdjust="spacingAndGlyphs" style="" fill="#000" >value</text>
<rect x="549" y="1066.65" width="776" height="38.2" fill="#e1e1e1"/>
<rect x="549" y="1143.45" width="776" height="38.2" fill="#e1e1e1"/>
<rect x="549" y="1220.25" width="776" height="38.2" fill="#e1e1e1"/>
<rect x="549" y="1297.05" width="776" height="38.2" fill="#e1e1e1"/>
<rect x="549" y="1373.85" width="776" height="38.2" fill="#e1e1e1"/>
<rect x="549" y="1450.65" width="776" height="38.2" fill="#e1e1e1"/>
<rect x="549" y="1527.45" width="776" height="38.2" fill="#e1e1e1"/>
<path d="M579.6 1064 V1566 M649.25 1064 V1566 M788.55 1064 V1566 M858.2 1064 V1566 M927.85 1064 V1566 M997.5 1064 V1566 M1067.15 1064 V1566 M1136.8 1064 V1566 M1206.45 1064 V1566 M1276.1 1064 V1566" stroke="#6a6a6a" stroke-width="1.1" stroke-dasharray="3.7 3.8" fill="none"/>
<path d="M718.9 1062.3 V1566" stroke="#000" stroke-width="2"/>
<path d="M895.3 1085.75 H929" stroke="#00f" stroke-width="3.0"/>
<circle cx="911.9" cy="1085.75" r="4.95" fill="#00f"/>
<text x="50.23" y="1093.2" font-size="27.93" textLength="79.86" lengthAdjust="spacingAndGlyphs" style="" fill="#000" >All CH</text>
<text x="211" y="1093.2" font-size="26.57" textLength="44.78" lengthAdjust="spacingAndGlyphs" style="" fill="#000" >3.11</text>
<text x="400.36" y="1093.2" font-size="26.57" textLength="55.71" lengthAdjust="spacingAndGlyphs" style="" fill="#000" >4.92</text>
<path d="M969 1124.15 H1022.8" stroke="#00f" stroke-width="2.3"/>
<circle cx="994.7" cy="1124.15" r="4.95" fill="#00f"/>
<text x="19.5" y="1132.3" font-size="27.93" textLength="110.25" lengthAdjust="spacingAndGlyphs" style="font-style:italic;" fill="#000" >DNMT3A</text>
<text x="206.18" y="1132.3" font-size="26.57" textLength="52.29" lengthAdjust="spacingAndGlyphs" style="" fill="#000" >1.56</text>
<text x="398.75" y="1132.3" font-size="26.57" textLength="56.63" lengthAdjust="spacingAndGlyphs" style="" fill="#000" >2.98</text>
<path d="M826.1 1162.55 H880.5" stroke="#00f" stroke-width="3.1"/>
<circle cx="852.2" cy="1162.55" r="4.95" fill="#00f"/>
<text x="70.33" y="1169.9" font-size="27.93" textLength="58.93" lengthAdjust="spacingAndGlyphs" style="font-style:italic;" fill="#000" >TET2</text>
<text x="205.22" y="1169.9" font-size="26.57" textLength="57.6" lengthAdjust="spacingAndGlyphs" style="" fill="#000" >0.97</text>
<text x="402.09" y="1169.9" font-size="26.57" textLength="49.62" lengthAdjust="spacingAndGlyphs" style="" fill="#000" >1.27</text>
<path d="M878.3 1200.95 H993.1" stroke="#00f" stroke-width="2.4"/>
<circle cx="932.2" cy="1200.95" r="4.95" fill="#00f"/>
<text x="55.51" y="1208.7" font-size="27.93" textLength="75.41" lengthAdjust="spacingAndGlyphs" style="font-style:italic;" fill="#000" >ASXL1</text>
<text x="203.25" y="1208.7" font-size="26.57" textLength="60.76" lengthAdjust="spacingAndGlyphs" style="" fill="#000" >0.30</text>
<text x="397.97" y="1208.7" font-size="26.57" textLength="60.07" lengthAdjust="spacingAndGlyphs" style="" fill="#000" >0.49</text>
<path d="M719 1239.35 H831" stroke="#00f" stroke-width="2.2"/>
<circle cx="770.2" cy="1239.35" r="4.95" fill="#00f"/>
<text x="46.48" y="1247.4" font-size="27.93" textLength="83.22" lengthAdjust="spacingAndGlyphs" style="font-style:italic;" fill="#000" >PPM1D</text>
<text x="207.11" y="1247.4" font-size="26.57" textLength="53.19" lengthAdjust="spacingAndGlyphs" style="" fill="#000" >0.18</text>
<text x="402.13" y="1247.4" font-size="26.57" textLength="51.83" lengthAdjust="spacingAndGlyphs" style="" fill="#000" >0.17</text>
<path d="M732.5 1277.75 H890" stroke="#00f" stroke-width="3.1"/>
<circle cx="802.4" cy="1277.75" r="4.95" fill="#00f"/>
<text x="66.96" y="1285.4" font-size="27.93" textLength="62.14" lengthAdjust="spacingAndGlyphs" style="font-style:italic;" fill="#000" >TP53</text>
<text x="195.47" y="1285.4" font-size="26.57" textLength="77.18" lengthAdjust="spacingAndGlyphs" style="" fill="#000" >0.092</text>
<text x="404.1" y="1285.4" font-size="26.57" textLength="46.74" lengthAdjust="spacingAndGlyphs" style="" fill="#000" >0.11</text>
<path d="M673 1316.15 H865.7" stroke="#00f" stroke-width="2.1"/>
<circle cx="755.5" cy="1316.15" r="3.45" fill="#fff" stroke="#00f" stroke-width="2.6"/>
<text x="54.41" y="1324.1" font-size="27.93" textLength="76.61" lengthAdjust="spacingAndGlyphs" style="font-style:italic;" fill="#000" >SF3B1</text>
<text x="195.79" y="1324.1" font-size="26.57" textLength="75.8" lengthAdjust="spacingAndGlyphs" style="" fill="#000" >0.073</text>
<text x="389.28" y="1324.1" font-size="26.57" textLength="76.63" lengthAdjust="spacingAndGlyphs" style="" fill="#000" >0.053</text>
<path d="M831.1 1354.55 H1149.9" stroke="#00f" stroke-width="2.9"/>
<circle cx="965.8" cy="1354.55" r="4.95" fill="#00f"/>
<text x="49.31" y="1363.6" font-size="27.93" textLength="80.31" lengthAdjust="spacingAndGlyphs" style="font-style:italic;" fill="#000" >SRSF2</text>
<text x="195.27" y="1363.6" font-size="26.57" textLength="76.71" lengthAdjust="spacingAndGlyphs" style="" fill="#000" >0.059</text>
<text x="388.24" y="1363.6" font-size="26.57" textLength="78.95" lengthAdjust="spacingAndGlyphs" style="" fill="#000" >0.080</text>
<path d="M700.7 1392.95 H917.9" stroke="#00f" stroke-width="2.2"/>
<circle cx="793.3" cy="1392.95" r="3.45" fill="#fff" stroke="#00f" stroke-width="2.6"/>
<text x="62.23" y="1401.6" font-size="27.93" textLength="69.18" lengthAdjust="spacingAndGlyphs" style="font-style:italic;" fill="#000" >GNB1</text>
<text x="196.3" y="1401.6" font-size="26.57" textLength="75.31" lengthAdjust="spacingAndGlyphs" style="" fill="#000" >0.052</text>
<text x="392.49" y="1401.6" font-size="26.57" textLength="69.43" lengthAdjust="spacingAndGlyphs" style="" fill="#000" >0.051</text>
<path d="M611.8 1431.35 H857.2" stroke="#00f" stroke-width="2.1"/>
<circle cx="707.6" cy="1431.35" r="3.45" fill="#fff" stroke="#00f" stroke-width="2.6"/>
<text x="68.53" y="1440.9" font-size="27.93" textLength="61.13" lengthAdjust="spacingAndGlyphs" style="font-style:italic;" fill="#000" >IDH2</text>
<text x="195.27" y="1440.9" font-size="26.57" textLength="77.04" lengthAdjust="spacingAndGlyphs" style="" fill="#000" >0.033</text>
<text x="392.49" y="1440.9" font-size="26.57" textLength="69.43" lengthAdjust="spacingAndGlyphs" style="" fill="#000" >0.021</text>
<path d="M820.5 1469.75 H1272.3" stroke="#00f" stroke-width="3.0"/>
<circle cx="1002.5" cy="1469.75" r="4.95" fill="#00f"/>
<text x="69.66" y="1479.1" font-size="27.93" textLength="59.95" lengthAdjust="spacingAndGlyphs" style="font-style:italic;" fill="#000" >JAK2</text>
<text x="196.29" y="1479.1" font-size="26.57" textLength="75.54" lengthAdjust="spacingAndGlyphs" style="" fill="#000" >0.024</text>
<text x="390.29" y="1479.1" font-size="26.57" textLength="75.52" lengthAdjust="spacingAndGlyphs" style="" fill="#000" >0.047</text>
<path d="M670.9 1508.15 H1289.9" stroke="#00f" stroke-width="2.0"/>
<circle cx="882.7" cy="1508.15" r="3.45" fill="#fff" stroke="#00f" stroke-width="2.6"/>
<text x="50.57" y="1517.7" font-size="27.93" textLength="78.87" lengthAdjust="spacingAndGlyphs" style="font-style:italic;" fill="#000" >PRPF8</text>
<text x="198.06" y="1517.7" font-size="26.57" textLength="71.02" lengthAdjust="spacingAndGlyphs" style="" fill="#000" >0.014</text>
<text x="392.47" y="1517.7" font-size="26.57" textLength="70.73" lengthAdjust="spacingAndGlyphs" style="" fill="#000" >0.013</text>
<path d="M584.2 1546.55 H938.1" stroke="#00f" stroke-width="2.6"/>
<circle cx="708.5" cy="1546.55" r="3.45" fill="#fff" stroke="#00f" stroke-width="2.6"/>
<text x="62.16" y="1557" font-size="27.93" textLength="67.47" lengthAdjust="spacingAndGlyphs" style="font-style:italic;" fill="#000" >KRAS</text>
<text x="201.24" y="1557" font-size="26.57" textLength="64.34" lengthAdjust="spacingAndGlyphs" style="" fill="#000" >0.011</text>
<text x="395.44" y="1557" font-size="26.57" textLength="64.13" lengthAdjust="spacingAndGlyphs" style="" fill="#000" >0.011</text>
<text x="1378.06" y="1247.2" font-size="27.42" textLength="77.66" lengthAdjust="spacingAndGlyphs" style="" fill="#000" >0.048</text>
<text x="1380.15" y="1285.2" font-size="27.42" textLength="71.87" lengthAdjust="spacingAndGlyphs" style="" fill="#000" >0.018</text>
<text x="1386.99" y="1323.9" font-size="27.42" textLength="58.65" lengthAdjust="spacingAndGlyphs" style="" fill="#000" >0.42</text>
<text x="1390.02" y="1401.4" font-size="27.42" textLength="52.67" lengthAdjust="spacingAndGlyphs" style="" fill="#000" >0.13</text>
<text x="1386.99" y="1440.7" font-size="27.42" textLength="58.84" lengthAdjust="spacingAndGlyphs" style="" fill="#000" >0.86</text>
<text x="1389.72" y="1517.5" font-size="27.42" textLength="52.36" lengthAdjust="spacingAndGlyphs" style="" fill="#000" >0.16</text>
<text x="1385.95" y="1556.8" font-size="27.42" textLength="60.76" lengthAdjust="spacingAndGlyphs" style="" fill="#000" >0.90</text>
<text x="1343.37" y="1092.8" font-size="27.42" textLength="47.83" lengthAdjust="spacingAndGlyphs" style="" fill="#000" >7.31</text>
<text x="1399.4" y="1091.6" font-size="22.92" textLength="13.39" lengthAdjust="spacingAndGlyphs" style="" fill="#000" >×</text>
<text x="1418.98" y="1092.8" font-size="27.42" textLength="29.89" lengthAdjust="spacingAndGlyphs" style="" fill="#000" >10</text>
<text x="1449.55" y="1081.3" font-size="18.37" textLength="8.79" lengthAdjust="spacingAndGlyphs" style="" fill="#000" >−</text>
<text x="1458.03" y="1080.2" font-size="18.37" textLength="30.41" lengthAdjust="spacingAndGlyphs" style="" fill="#000" >185</text>
<text x="1343.66" y="1132" font-size="27.42" textLength="52.82" lengthAdjust="spacingAndGlyphs" style="" fill="#000" >1.34</text>
<text x="1403.35" y="1130.8" font-size="23.6" textLength="13.78" lengthAdjust="spacingAndGlyphs" style="" fill="#000" >×</text>
<text x="1423.16" y="1132" font-size="27.42" textLength="28.77" lengthAdjust="spacingAndGlyphs" style="" fill="#000" >10</text>
<text x="1453.21" y="1120.5" font-size="18.37" textLength="9.27" lengthAdjust="spacingAndGlyphs" style="" fill="#000" >−</text>
<text x="1464.32" y="1119.4" font-size="18.37" textLength="21.71" lengthAdjust="spacingAndGlyphs" style="" fill="#000" >171</text>
<text x="1345.8" y="1169.9" font-size="27.42" textLength="49.3" lengthAdjust="spacingAndGlyphs" style="" fill="#000" >1.22</text>
<text x="1402.46" y="1168.7" font-size="23.37" textLength="13.65" lengthAdjust="spacingAndGlyphs" style="" fill="#000" >×</text>
<text x="1422.06" y="1169.9" font-size="27.42" textLength="28.77" lengthAdjust="spacingAndGlyphs" style="" fill="#000" >10</text>
<text x="1452.1" y="1158.4" font-size="18.37" textLength="9.39" lengthAdjust="spacingAndGlyphs" style="" fill="#000" >−</text>
<text x="1461.9" y="1157.3" font-size="18.37" textLength="23.86" lengthAdjust="spacingAndGlyphs" style="" fill="#000" >30</text>
<text x="1347.81" y="1208.6" font-size="27.42" textLength="51.76" lengthAdjust="spacingAndGlyphs" style="" fill="#000" >1.24</text>
<text x="1406.48" y="1207.4" font-size="23.15" textLength="13.52" lengthAdjust="spacingAndGlyphs" style="" fill="#000" >×</text>
<text x="1425.08" y="1208.6" font-size="27.42" textLength="30" lengthAdjust="spacingAndGlyphs" style="" fill="#000" >10</text>
<text x="1456.2" y="1197.1" font-size="18.37" textLength="9.39" lengthAdjust="spacingAndGlyphs" style="" fill="#000" >−</text>
<text x="1465.56" y="1196" font-size="18.37" textLength="16.48" lengthAdjust="spacingAndGlyphs" style="" fill="#000" >21</text>
<text x="1348.85" y="1362.8" font-size="27.42" textLength="56.32" lengthAdjust="spacingAndGlyphs" style="" fill="#000" >2.98</text>
<text x="1412.3" y="1361.6" font-size="24.27" textLength="14.17" lengthAdjust="spacingAndGlyphs" style="" fill="#000" >×</text>
<text x="1431.76" y="1362.8" font-size="27.42" textLength="30.22" lengthAdjust="spacingAndGlyphs" style="" fill="#000" >10</text>
<text x="1461.84" y="1351.3" font-size="18.37" textLength="9.99" lengthAdjust="spacingAndGlyphs" style="" fill="#000" >−</text>
<text x="1471.72" y="1350.2" font-size="18.37" textLength="10.89" lengthAdjust="spacingAndGlyphs" style="" fill="#000" >5</text>
<text x="1349.45" y="1478.9" font-size="27.42" textLength="56.32" lengthAdjust="spacingAndGlyphs" style="" fill="#000" >4.36</text>
<text x="1412.3" y="1477.7" font-size="24.27" textLength="14.17" lengthAdjust="spacingAndGlyphs" style="" fill="#000" >×</text>
<text x="1431.76" y="1478.9" font-size="27.42" textLength="30.22" lengthAdjust="spacingAndGlyphs" style="" fill="#000" >10</text>
<text x="1462.95" y="1467.4" font-size="18.37" textLength="9.87" lengthAdjust="spacingAndGlyphs" style="" fill="#000" >−</text>
<text x="1472.56" y="1466.3" font-size="18.37" textLength="10.79" lengthAdjust="spacingAndGlyphs" style="" fill="#000" >4</text>
<text x="562.09" y="1598.9" font-size="22.76" textLength="35.23" lengthAdjust="spacingAndGlyphs" style="" fill="#000" >0.5</text>
<text x="626.13" y="1598.9" font-size="22.76" textLength="46.96" lengthAdjust="spacingAndGlyphs" style="" fill="#000" >0.75</text>
<text x="713.1" y="1598.9" font-size="22.76" textLength="10.42" lengthAdjust="spacingAndGlyphs" style="" fill="#000" >1</text>
<text x="766.77" y="1598.9" font-size="22.76" textLength="42.33" lengthAdjust="spacingAndGlyphs" style="" fill="#000" >1.25</text>
<text x="842.6" y="1598.9" font-size="22.76" textLength="29.66" lengthAdjust="spacingAndGlyphs" style="" fill="#000" >1.5</text>
<text x="905.77" y="1598.9" font-size="22.76" textLength="42.22" lengthAdjust="spacingAndGlyphs" style="" fill="#000" >1.75</text>
<text x="990.04" y="1598.9" font-size="22.76" textLength="14.06" lengthAdjust="spacingAndGlyphs" style="" fill="#000" >2</text>
<text x="1043.23" y="1598.9" font-size="22.76" textLength="45.54" lengthAdjust="spacingAndGlyphs" style="" fill="#000" >2.25</text>
<text x="1118.86" y="1598.9" font-size="22.76" textLength="34.43" lengthAdjust="spacingAndGlyphs" style="" fill="#000" >2.5</text>
<text x="1183.15" y="1598.9" font-size="22.76" textLength="44.8" lengthAdjust="spacingAndGlyphs" style="" fill="#000" >2.75</text>
<text x="1268.88" y="1598.9" font-size="22.76" textLength="13.7" lengthAdjust="spacingAndGlyphs" style="" fill="#000" >3</text>
<text x="858.88" y="1641" font-size="27.05" textLength="154.77" lengthAdjust="spacingAndGlyphs" style="" fill="#000" >OR [95% Cl]</text>
<defs><linearGradient id="gr" gradientUnits="userSpaceOnUse" x1="582" y1="0" x2="1319" y2="0">
<stop offset="0" stop-color="#ff0000"/><stop offset="0.21" stop-color="#ffffff"/><stop offset="0.225" stop-color="#ffffff"/><stop offset="1" stop-color="#0000ff"/></linearGradient></defs>
<polygon points="581.9,1687.4 618.9,1666.9 618.9,1676.9 1282.3,1676.9 1282.3,1666.9 1319.3,1687.4 1282.3,1708.8 1282.3,1699 618.9,1699 618.9,1708.8" fill="url(#gr)"/>
<text x="524.96" y="1737.6" font-size="26.62" textLength="228.77" lengthAdjust="spacingAndGlyphs" style="" fill="#f00" >CH more frequent</text>
<text x="586.89" y="1769.5" font-size="26.62" textLength="105.73" lengthAdjust="spacingAndGlyphs" style="" fill="#f00" >in MCPS</text>
<text x="1051.06" y="1737.6" font-size="26.62" textLength="228.97" lengthAdjust="spacingAndGlyphs" style="" fill="#00f" >CH more frequent</text>
<text x="1124.62" y="1769.5" font-size="26.62" textLength="82.27" lengthAdjust="spacingAndGlyphs" style="" fill="#00f" >in UKB</text>
</svg>
</body></html>
